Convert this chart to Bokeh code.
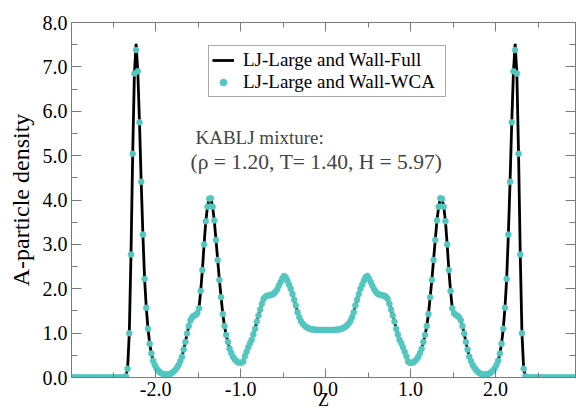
import numpy as np
from bokeh.plotting import figure
from bokeh.models import (Range1d, FixedTicker, PrintfTickFormatter, LinearAxis,
                          Label, Legend, LegendItem, ColumnDataSource)
from bokeh.embed import file_html
from bokeh.resources import INLINE

# ---------------- data ----------------
z_first, z_step, z_count = -2.99, 0.02, 300

# A-particle density, WCA wall (z = -2.99 ... -0.01)
rho_wca_left = [
    0, 0, 0, 0, 0, 0, 0, 0, 0, 0,
    0, 0, 0, 0, 0, 0, 0, 0, 0, 0,
    0, 0, 0, 0, 0, 0, 0, 0, 0, 0,
    0, 0, 0.03, 0.20, 1.00, 2.77, 5.04, 6.85, 7.38, 6.90,
    5.75, 4.41, 3.22, 2.22, 1.57, 1.10, 0.76, 0.54, 0.38, 0.28,
    0.21, 0.16, 0.12, 0.09, 0.08, 0.07, 0.07, 0.07, 0.08, 0.10,
    0.13, 0.17, 0.22, 0.28, 0.37, 0.47, 0.63, 0.80, 0.99, 1.16,
    1.29, 1.36, 1.39, 1.41, 1.45, 1.56, 1.95, 2.42, 3.00, 3.52,
    3.85, 4.03, 4.04, 3.85, 3.54, 3.10, 2.65, 2.20, 1.81, 1.43,
    1.16, 0.96, 0.80, 0.65, 0.55, 0.47, 0.41, 0.37, 0.34, 0.33,
    0.33, 0.36, 0.48, 0.58, 0.68, 0.77, 0.85, 0.97, 1.10, 1.26,
    1.40, 1.53, 1.66, 1.77, 1.82, 1.84, 1.85, 1.86, 1.87, 1.89,
    1.93, 1.99, 2.07, 2.15, 2.23, 2.29, 2.26, 2.18, 2.09, 2.00,
    1.88, 1.75, 1.62, 1.47, 1.36, 1.27, 1.21, 1.17, 1.14, 1.12,
    1.10, 1.09, 1.08, 1.08, 1.07, 1.07, 1.07, 1.07, 1.07, 1.07,
]
# (z = 0.01 ... 2.99)
rho_wca_right = [
    1.07, 1.07, 1.07, 1.07, 1.07, 1.07, 1.08, 1.08, 1.09, 1.10,
    1.12, 1.14, 1.17, 1.21, 1.27, 1.36, 1.47, 1.62, 1.75, 1.88,
    2.00, 2.09, 2.18, 2.26, 2.29, 2.23, 2.15, 2.07, 1.99, 1.93,
    1.89, 1.87, 1.86, 1.85, 1.84, 1.82, 1.77, 1.66, 1.53, 1.40,
    1.26, 1.10, 0.97, 0.85, 0.77, 0.68, 0.58, 0.48, 0.36, 0.33,
    0.33, 0.34, 0.37, 0.41, 0.47, 0.55, 0.65, 0.80, 0.96, 1.16,
    1.43, 1.81, 2.20, 2.65, 3.10, 3.54, 3.85, 4.04, 4.03, 3.85,
    3.52, 3.00, 2.42, 1.95, 1.56, 1.45, 1.41, 1.39, 1.36, 1.29,
    1.16, 0.99, 0.80, 0.63, 0.47, 0.37, 0.28, 0.22, 0.17, 0.13,
    0.10, 0.08, 0.07, 0.07, 0.07, 0.08, 0.09, 0.12, 0.16, 0.21,
    0.28, 0.38, 0.54, 0.76, 1.10, 1.57, 2.22, 3.22, 4.41, 5.75,
    6.90, 7.38, 6.85, 5.04, 2.77, 1.00, 0.20, 0.03, 0, 0,
    0, 0, 0, 0, 0, 0, 0, 0, 0, 0,
    0, 0, 0, 0, 0, 0, 0, 0, 0, 0,
    0, 0, 0, 0, 0, 0, 0, 0, 0, 0,
]
# full-wall curve: same profile, slightly higher sharp contact peaks
full_peak_z = [-2.23, 2.23]
full_peak_rho = [7.52, 7.52]

x_ticks = [-2.0, -1.0, 0.0, 1.0, 2.0]
x_minor = [-2.5, -1.5, -0.5, 0.5, 1.5, 2.5]
y_ticks = [0, 1, 2, 3, 4, 5, 6, 7, 8]
y_minor = [0.5, 1.5, 2.5, 3.5, 4.5, 5.5, 6.5, 7.5]

legend_labels = ["LJ-Large and Wall-Full", "LJ-Large and Wall-WCA"]
note_line1 = "KABLJ mixture:"
note_line2 = "(\u03c1 = 1.20, T= 1.40, H = 5.97)"
x_label = "Z"
y_label = "A-particle density"

# ---------------- build ----------------
z = np.round(z_first + z_step * np.arange(z_count), 2)
rho_wca = np.array(rho_wca_left + rho_wca_right, dtype=float)
rho_full = rho_wca.copy()
for pz, pr in zip(full_peak_z, full_peak_rho):
    rho_full[np.argmin(np.abs(z - pz))] = pr

src_full = ColumnDataSource(dict(z=z, rho=rho_full))
src_wca = ColumnDataSource(dict(z=z, rho=rho_wca))

FONT = "Liberation Serif"
AX = "#7a7a7a"
TURQ = "#52c6bf"

p = figure(width=576, height=413, output_backend="svg", toolbar_location=None,
           x_range=Range1d(-2.99, 2.94), y_range=Range1d(0, 8.0),
           min_border_left=71, min_border_right=1, min_border_top=22,
           min_border_bottom=36, x_axis_type=None, y_axis_type=None)
p.grid.visible = False
p.outline_line_color = AX
p.outline_line_width = 1
p.background_fill_color = "white"
p.border_fill_color = "white"


def style_axis(ax, ticks, minor, show_labels, major_in, minor_in, standoff):
    ax.ticker = FixedTicker(ticks=ticks, minor_ticks=minor)
    ax.formatter = PrintfTickFormatter(format="%.1f")
    ax.axis_line_color = AX
    ax.major_tick_line_color = AX
    ax.minor_tick_line_color = AX
    ax.major_tick_in = major_in
    ax.major_tick_out = 0
    ax.minor_tick_in = minor_in
    ax.minor_tick_out = 0
    ax.major_label_text_font = FONT
    ax.major_label_text_font_size = "20px"
    ax.major_label_text_color = "black"
    ax.major_label_standoff = standoff
    ax.axis_label_text_font = FONT
    ax.axis_label_text_font_style = "normal"
    ax.axis_label_text_color = "black"
    if not show_labels:
        ax.major_label_text_font_size = "0px"
        ax.major_label_text_alpha = 0


xb = LinearAxis()
style_axis(xb, x_ticks, x_minor, True, 9, 5, 4)
xb.axis_label = x_label
xb.axis_label_text_font_size = "18px"
xb.axis_label_standoff = -9
p.add_layout(xb, "below")

xt = LinearAxis()
style_axis(xt, x_ticks, x_minor, False, 9, 5, 0)
p.add_layout(xt, "above")

yl = LinearAxis()
style_axis(yl, y_ticks, y_minor, True, 10, 6, 4)
yl.axis_label = y_label
yl.axis_label_text_font_size = "24px"
yl.axis_label_standoff = 6
p.add_layout(yl, "left")

yr = LinearAxis()
style_axis(yr, y_ticks, y_minor, False, 10, 6, 0)
p.add_layout(yr, "right")

r_line = p.line("z", "rho", source=src_full, line_color="black", line_width=2.8)
r_dots = p.scatter("z", "rho", source=src_wca, size=6, fill_color=TURQ,
                   line_color=TURQ, line_width=0.5)

legend = Legend(items=[LegendItem(label=legend_labels[0], renderers=[r_line]),
                       LegendItem(label=legend_labels[1], renderers=[r_dots])],
                location=(137, 280))
legend.label_text_font = FONT
legend.label_text_font_size = "19px"
legend.label_text_color = "black"
legend.border_line_color = "#555555"
legend.border_line_width = 1
legend.background_fill_color = "white"
legend.background_fill_alpha = 1
legend.padding = 3
legend.spacing = 0
legend.margin = 0
legend.glyph_width = 22
legend.glyph_height = 18
legend.label_height = 18
legend.label_width = 199
legend.label_standoff = 9
p.add_layout(legend, "center")

p.add_layout(Label(x=124, y=240, x_units="screen", y_units="screen",
                   text=note_line1, text_font=FONT, text_font_size="19px",
                   text_baseline="alphabetic", text_align="left"))
p.add_layout(Label(x=119, y=216, x_units="screen", y_units="screen",
                   text=note_line2, text_font=FONT, text_font_size="21.5px",
                   text_baseline="alphabetic", text_align="left"))

open("out.html", "w").write(file_html(p, INLINE))
